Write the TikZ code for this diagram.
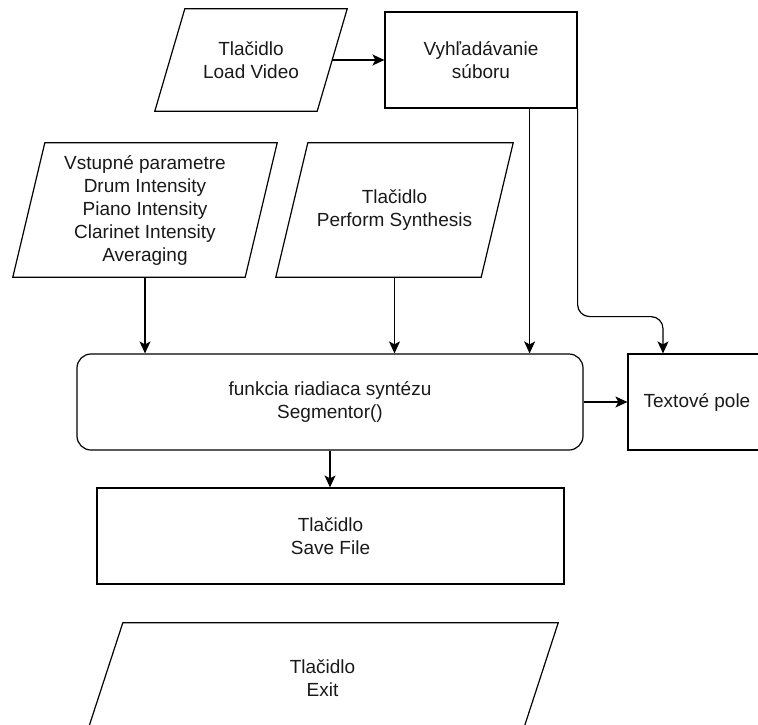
\documentclass[tikz,border=0pt]{standalone}
\usepackage{fontspec}
\setmainfont{Liberation Sans}
\usetikzlibrary{arrows.meta,calc}

\tikzset{
  lbl/.style={inner sep=0pt, align=center, font=\fontsize{19}{23}\selectfont, text=black!90},
  box/.style={lbl, draw, line width=1.2pt},
  roundbox/.style={box, rounded corners=14pt},
  arr/.style={line width=1.2pt, -{Stealth[length=12pt,width=11pt,inset=3pt]}},
}
% parallelogram outline drawn over the bounding box of a named node
\newcommand\slantbox[2]{%
  \draw[line width=1.2pt] ([xshift=#2]#1.north west) -- (#1.north east)
    -- ([xshift=-#2]#1.south east) -- (#1.south west) -- cycle;}

\begin{document}
\begin{tikzpicture}[x=1pt,y=-1pt]
\useasboundingbox (0,0) rectangle (758,724);
\clip (0,0) rectangle (758,724);

% input / button shapes (parallelograms)
\node[lbl, minimum width=192pt, minimum height=102pt] (lv) at (251,60) {Tlačidlo\\Load Video};
\slantbox{lv}{30pt}
\node[lbl, minimum width=264pt, minimum height=134pt] (vp) at (145,210)
  {Vstupné parametre\\Drum Intensity\\Piano Intensity\\Clarinet Intensity\\Averaging};
\slantbox{vp}{32pt}
\node[lbl, minimum width=237pt, minimum height=134pt] (ps) at (394.5,210) {Tlačidlo\\Perform Synthesis};
\slantbox{ps}{32pt}
\node[lbl, minimum width=471pt, minimum height=110pt] (ex) at (322.5,678) {Tlačidlo\\Exit};
\slantbox{ex}{36pt}

% process boxes
\node[box, minimum width=192pt, minimum height=96pt] (vy) at (481,60) {Vyhľadávanie\\súboru};
\node[roundbox, minimum width=506pt, minimum height=96pt] (fn) at (330,402)
  {funkcia riadiaca syntézu\\Segmentor()};
\node[box, minimum width=138pt, minimum height=96pt] (tp) at (697,402) {Textové pole};
\node[box, minimum width=467pt, minimum height=96pt] (sf) at (330.5,536) {Tlačidlo\\Save File};

% connectors
\draw[arr] ([xshift=-15pt]lv.east) -- (vy.west);
\coordinate (vyout) at ([xshift=-48pt]vy.south east);
\draw[arr] (vyout) -- (vyout |- fn.north);
\coordinate (tpin) at ([xshift=-34pt]tp.north);
\draw[arr, rounded corners=12pt] (vy.south east) -- ++(0,208) -| (tpin);
\draw[arr] (vp.south) -- (vp.south |- fn.north);
\draw[arr] (ps.south) -- (ps.south |- fn.north);
\draw[arr] (fn.east) -- (tp.west);
\draw[arr] (fn.south) -- (fn.south |- sf.north);
\end{tikzpicture}
\end{document}
